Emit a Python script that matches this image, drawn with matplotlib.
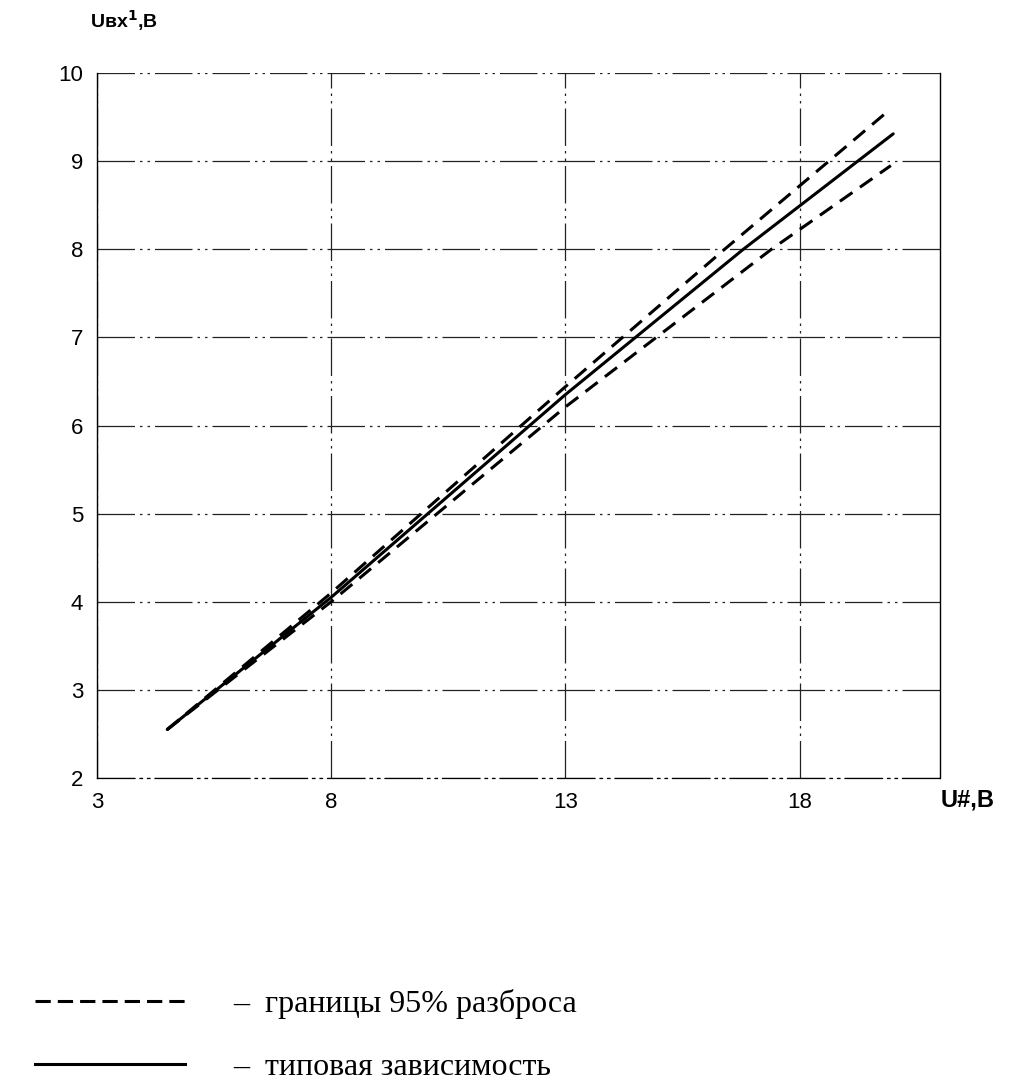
import matplotlib
matplotlib.use("Agg")
import matplotlib.pyplot as plt
from matplotlib.lines import Line2D

# values
u_in = [4.5, 8, 13, 16.8, 20]
typical = [2.55, 4.05, 6.35, 8.0, 9.31]

u_in_hi = [4.5, 8, 13, 16.4, 19.85]
upper = [2.55, 4.1, 6.44, 8.0, 9.55]

u_in_lo = [4.5, 8, 13, 17.4, 19.95]
lower = [2.55, 4.0, 6.21, 8.0, 8.95]

x_ticks = [3, 8, 13, 18]
y_ticks = [2, 3, 4, 5, 6, 7, 8, 9, 10]

fig = plt.figure(figsize=(10.21, 10.87), dpi=100)
ax = fig.add_axes([0.095, 0.2843, 0.8257, 0.6485])

tick_font = {"family": "Liberation Sans", "size": 16}
grid_ls = (0, (30, 4, 2, 4, 2, 4))

ax.plot(u_in, typical, color="black", lw=2.2, solid_capstyle="round")
ax.plot(u_in_hi, upper, color="black", lw=2.2, linestyle=(0, (5, 3)))
ax.plot(u_in_lo, lower, color="black", lw=2.2, linestyle=(0, (5, 3)))

ax.set_xlim(3, 21)
ax.set_ylim(2, 10)
ax.set_xticks(x_ticks)
ax.set_yticks(y_ticks)
ax.set_xticklabels([str(v) for v in x_ticks], fontdict=tick_font)
ax.set_yticklabels([str(v) for v in y_ticks], fontdict=tick_font)
ax.tick_params(length=0, pad=10)

ax.grid(True, color="#222222", lw=0.9, linestyle=grid_ls)
ax.spines["top"].set_visible(False)
ax.spines["bottom"].set_linestyle(grid_ls)
ax.spines["bottom"].set_linewidth(0.9)
for s in ["left", "right"]:
    ax.spines[s].set_linewidth(1.0)

fig.text(0.088, 0.981, "Uвх$^\\mathbf{1}$,В", family="Liberation Sans", fontsize=14,
         fontweight="bold", ha="left", va="center")
fig.text(0.921, 0.264, "U#,В", family="Liberation Sans", fontsize=17,
         fontweight="bold", ha="left", va="center")

handles = [Line2D([], [], color="black", lw=2.2, linestyle=(0, (5, 2.3))),
           Line2D([], [], color="black", lw=2.2)]
labels = ["–  границы 95% разброса", "–  типовая зависимость"]
fig.legend(handles, labels, loc="upper left", bbox_to_anchor=(0.034, 0.090),
           frameon=False, prop={"family": "Liberation Serif", "size": 23},
           handlelength=4.7, handletextpad=1.5, labelspacing=1.05,
           borderaxespad=0, borderpad=0)

fig.savefig("out.png", dpi=100)
